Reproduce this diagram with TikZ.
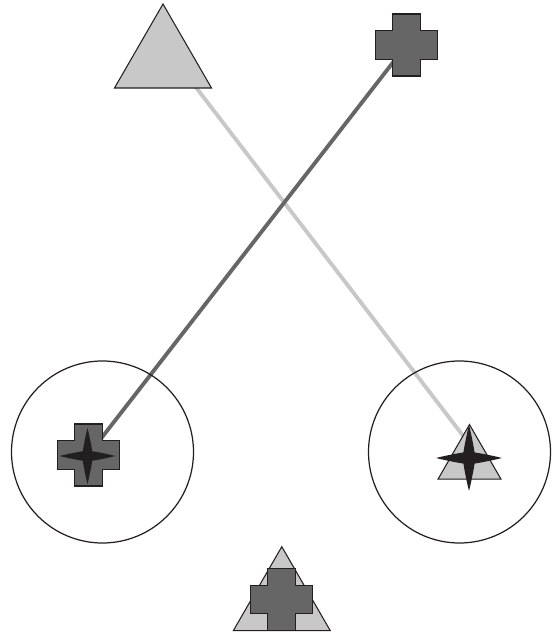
\documentclass[tikz,border=0pt]{standalone}
\definecolor{shapelight}{HTML}{C8C8C8}
\definecolor{shapedark}{HTML}{666666}
\definecolor{inkdark}{HTML}{231F20}
\usepackage{tikz}
\usetikzlibrary{positioning}
\usepackage{xcolor}

\tikzset{
  outline/.style={draw=inkdark, line width=0.6pt, line join=miter},
  link/.style={line width=2.2pt},
  ring/.style={circle, draw=inkdark, line width=0.7pt, minimum size=3.64cm, inner sep=0pt},
  tri/.pic={\path[outline, fill=shapelight] (0,1.12) -- (0.97,-0.56) -- (-0.97,-0.56) -- cycle;},
  plus/.pic={\path[outline, fill=shapedark] (-0.285,0.62) -- (0.285,0.62) -- (0.285,0.285)
      -- (0.62,0.285) -- (0.62,-0.285) -- (0.285,-0.285) -- (0.285,-0.62) -- (-0.285,-0.62)
      -- (-0.285,-0.285) -- (-0.62,-0.285) -- (-0.62,0.285) -- (-0.285,0.285) -- cycle;},
  sparkle/.pic={\fill[inkdark] (1,0)
      .. controls (0.6,0.1) and (0.28,0.15) .. (0.17,0.17)
      .. controls (0.15,0.28) and (0.1,0.6) .. (0,1)
      .. controls (-0.1,0.6) and (-0.15,0.28) .. (-0.17,0.17)
      .. controls (-0.28,0.15) and (-0.6,0.1) .. (-1,0)
      .. controls (-0.6,-0.1) and (-0.28,-0.15) .. (-0.17,-0.17)
      .. controls (-0.15,-0.28) and (-0.1,-0.6) .. (0,-1)
      .. controls (0.1,-0.6) and (0.15,-0.28) .. (0.17,-0.17)
      .. controls (0.28,-0.15) and (0.6,-0.1) .. (1,0) -- cycle;}
}

\begin{document}
\begin{tikzpicture}
    \useasboundingbox (0,0) rectangle (11.04,12.72);

    % end points of the two links
    \coordinate (trisrc) at (3.5,11.52);
    \coordinate (stardst) at (9.48,3.72);
    \coordinate (plussrc) at (8.13,11.82);
    \coordinate (plusdst) at (1.766,3.62);

    \draw[link, shapelight] (trisrc) -- (stardst);
    \draw[link, shapedark] (plussrc) -- (plusdst);

    \node[ring] (leftring) at (2.05,3.68) {};
    \node[ring] (rightring) at (9.19,3.68) {};

    % shapes
    \foreach \pos/\kind/\s in {
      {(3.26,11.52)}/tri/1,
      {(8.13,11.82)}/plus/1,
      {(1.766,3.62)}/plus/1,
      {(1.75,3.60)}/sparkle/0.56,
      {(9.39,3.50)}/tri/0.65,
      {(9.38,3.56)}/sparkle/0.66,
      {(5.636,0.666)}/tri/1,
      {(5.634,0.73)}/plus/1
    } {
      \pic[scale=\s] at \pos {\kind};
    }
\end{tikzpicture}
\end{document}
